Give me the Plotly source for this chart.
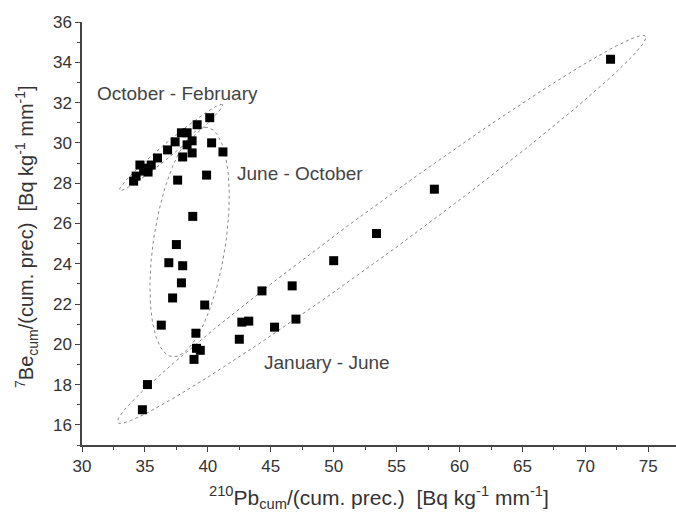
import numpy as np
import plotly.graph_objects as go

# ---- data ----
pb_cum = [34.1, 34.3, 34.6, 34.9, 35.0, 35.25, 35.5, 36.0, 36.8, 37.4, 37.9, 38.35,
          38.75, 39.15, 40.15, 38.0, 38.75, 38.35, 40.3, 41.2, 37.6, 39.9,
          38.8, 37.5, 36.9, 38.0, 37.9, 37.2, 39.75, 36.3, 39.05, 39.1, 39.4, 38.9,
          35.2, 34.8,
          42.5, 42.7, 43.25, 44.3, 45.3, 46.7, 47.0, 50.0, 53.4, 58.0, 72.0]
be_cum = [28.1, 28.35, 28.9, 28.6, 28.75, 28.55, 28.9, 29.25, 29.65, 30.05, 30.5, 30.5,
          30.1, 30.9, 31.25, 29.3, 29.5, 29.9, 30.0, 29.55, 28.15, 28.4,
          26.35, 24.95, 24.05, 23.9, 23.05, 22.3, 21.95, 20.95, 20.55, 19.8, 19.7, 19.25,
          18.0, 16.75,
          20.25, 21.1, 21.15, 22.65, 20.85, 22.9, 21.25, 24.15, 25.5, 27.7, 34.15]

group_labels = ["October - February", "June - October", "January - June"]

X_RANGE = [30, 77.2]
Y_RANGE = [15, 36]

W, H = 676, 521
ML, MR, MT, MB = 82, 0, 22, 76
plot_w = W - ML - MR
plot_h = H - MT - MB
sx = plot_w / (X_RANGE[1] - X_RANGE[0])   # px per x unit
sy = plot_h / (Y_RANGE[1] - Y_RANGE[0])   # px per y unit

# ellipse outlines: centre (data units), semi-axes (px), tilt (deg)
ellipses = [
    dict(cx=37.07, cy=29.77, a=67, b=6.5, ang=39.8),
    dict(cx=38.55, cy=25.08, a=116, b=36, ang=81.3),
    dict(cx=53.81, cy=25.70, a=327, b=23, ang=36.2),
]

fig = go.Figure()

t = np.linspace(0, 2 * np.pi, 400)
for e in ellipses:
    th = np.radians(e["ang"])
    ex = e["cx"] + (e["a"] * np.cos(t) * np.cos(th) - e["b"] * np.sin(t) * np.sin(th)) / sx
    ey = e["cy"] + (e["a"] * np.cos(t) * np.sin(th) + e["b"] * np.sin(t) * np.cos(th)) / sy
    fig.add_trace(go.Scatter(x=ex, y=ey, mode="lines",
                             line=dict(color="#888888", width=1, dash="dot"),
                             hoverinfo="skip", showlegend=False))

fig.add_trace(go.Scatter(x=pb_cum, y=be_cum, mode="markers",
                         marker=dict(symbol="square", size=9, color="black",
                                     line=dict(width=0)),
                         showlegend=False))

font_family = "Liberation Sans, Arial, sans-serif"
label_pos = [(37.55, 32.45), (47.3, 28.5), (49.5, 19.1)]
annotations = []
for lab, (lx, ly) in zip(group_labels, label_pos):
    annotations.append(dict(x=lx, y=ly, xref="x", yref="y", text=lab, showarrow=False,
                            font=dict(size=19, color="#444444", family=font_family)))

annotations.append(dict(
    x=0.5, y=-(497 - (H - MB)) / plot_h, xref="paper", yref="paper", showarrow=False,
    yanchor="middle",
    text="<sup>210</sup>Pb<sub>cum</sub>/(cum. prec.)  [Bq kg<sup>-1</sup> mm<sup>-1</sup>]",
    font=dict(size=21, color="#333333", family=font_family)))
annotations.append(dict(
    x=-(ML - 27) / plot_w, y=1 - (237 - MT) / plot_h, xref="paper", yref="paper",
    showarrow=False, textangle=-90, xanchor="center", yanchor="middle",
    text="<sup>7</sup>Be<sub>cum</sub>/(cum. prec)  [Bq kg<sup>-1</sup> mm<sup>-1</sup>]",
    font=dict(size=20, color="#333333", family=font_family)))

axis_common = dict(showline=True, linecolor="#444444", linewidth=1.5,
                   ticks="outside", ticklen=5, tickwidth=1.3, tickcolor="#444444",
                   showgrid=False, zeroline=False,
                   tickfont=dict(size=17, color="#333333", family=font_family))

fig.update_layout(
    width=W, height=H,
    margin=dict(l=ML, r=MR, t=MT, b=MB),
    paper_bgcolor="white", plot_bgcolor="white",
    xaxis=dict(range=X_RANGE, tick0=30, dtick=5,
               minor=dict(dtick=2.5, ticks="outside", ticklen=3, tickcolor="#444444"),
               **axis_common),
    yaxis=dict(range=Y_RANGE, tick0=16, dtick=2,
               minor=dict(dtick=1, ticks="outside", ticklen=3, tickcolor="#444444"),
               **axis_common),
    annotations=annotations,
)

fig.write_html("out.html")
